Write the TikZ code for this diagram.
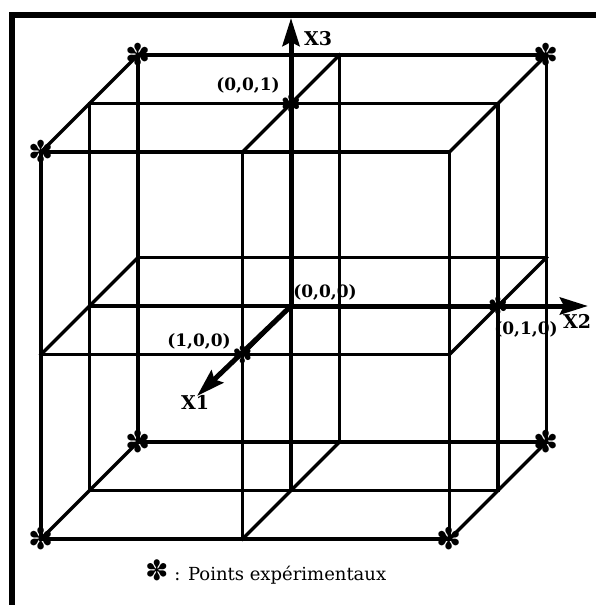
\documentclass[tikz,border=0pt]{standalone}
\usepackage{fontspec}
\setmainfont{DejaVu Serif}
\newfontfamily\starfont{DejaVu Sans}
\usetikzlibrary{arrows.meta}

\begin{document}
\begin{tikzpicture}[x=1pt,y=1pt,line cap=rect,
  grid line/.style={line width=3.2pt},
  axis line/.style={line width=5pt,-{Stealth[length=28pt,width=17pt,inset=4pt]}},
  axis label/.style={font=\bfseries\fontsize{19}{19}\selectfont,inner sep=0pt},
  point label/.style={font=\bfseries\fontsize{17}{17}\selectfont,inner sep=0pt},
  exp point/.style={font=\starfont\fontsize{30}{30}\selectfont,inner sep=0pt},
  axial point/.style={font=\starfont\fontsize{24}{24}\selectfont,inner sep=0pt}]
  \useasboundingbox (0,0) rectangle (595,-605);
  \draw[line width=6pt] (12,-15) rectangle (640,-660);
  \foreach \i/\d in {0/48.5,1/0,2/-48.5}
    \foreach \j/\u in {0/89.5,1/291,2/498}
      \foreach \k/\v in {0/490.5,1/306,2/103.5}
        \coordinate (p\i\j\k) at ({\u+(\d)},{-\v+(\d)});
  \node[point label] (o001) at (248,-85) {(0,0,1)};
  \node[point label] (o000) at (325,-292) {(0,0,0)};
  \node[point label] (o100) at (199,-341) {(1,0,0)};
  \node[point label] (o010) at (526,-329) {(0,1,0)};
  \foreach \i in {0,1,2}
    \foreach \k in {0,1,2}
      \draw[grid line] (p\i0\k) -- (p\i2\k);
  \foreach \i in {0,1,2}
    \foreach \j in {0,1,2}
      \draw[grid line] (p\i\j0) -- (p\i\j2);
  \foreach \j in {0,1,2}
    \foreach \k in {0,1,2}{
      \ifnum\j\k=11
        \draw[grid line] (p1\j\k) -- (p2\j\k);
      \else
        \draw[grid line] (p0\j\k) -- (p2\j\k);
      \fi}
  \coordinate (x3tip) at (291,-18);
  \coordinate (x2tip) at (588,-306);
  \coordinate (x1tip) at (197,-396);
  \draw[axis line] (p111) -- (x3tip);
  \draw[axis line] (p111) -- (x2tip);
  \draw[axis line] (p111) -- (x1tip);
  \node[axis label] (x3lab) at (318,-39) {X3};
  \node[axis label] (x2lab) at (577,-321) {X2};
  \node[axis label] (x1lab) at (195,-402) {X1};
  \foreach \p in {p002,p022,p202,p000,p020,p200,p220}
    \node[exp point] (s\p) at (\p) {✽};
  \foreach \p in {p112,p211,p121}
    \node[axial point] (s\p) at (\p) {✽};
  \node[anchor=west,inner sep=0pt,font=\fontsize{18}{18}\selectfont] (legend) at (145,-572)
    {{\starfont\fontsize{28}{28}\selectfont ✽} : Points expérimentaux};
\end{tikzpicture}
\end{document}
